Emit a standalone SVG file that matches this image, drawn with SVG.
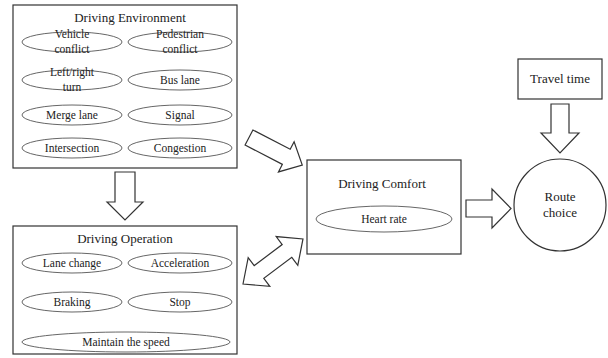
<svg xmlns="http://www.w3.org/2000/svg" width="608" height="358" viewBox="0 0 608 358" font-family="'Liberation Serif', 'DejaVu Serif', serif">
<style>
.box{fill:#fff;stroke:#333;stroke-width:1.2}
.ell{fill:#fff;stroke:#555;stroke-width:0.9}
.arr{fill:#fff;stroke:#333;stroke-width:1.2;stroke-linejoin:miter}
text{font-family:'Liberation Serif','DejaVu Serif',serif;fill:#222;text-anchor:middle}
.t{font-size:13px}
.l{font-size:11.5px}
</style>
<rect width="608" height="358" fill="#fff"/>
<g id="driving-environment">
<rect class="box" x="13" y="5" width="224" height="163"/>
<text class="t" x="130" y="22">Driving Environment</text>
<ellipse class="ell" cx="72" cy="42" rx="50" ry="10"/>
<text class="l" x="72" y="38">Vehicle</text>
<text class="l" x="72" y="53">conflict</text>
<ellipse class="ell" cx="180" cy="42" rx="52" ry="10"/>
<text class="l" x="180" y="38">Pedestrian</text>
<text class="l" x="180" y="53">conflict</text>
<ellipse class="ell" cx="72" cy="80" rx="50" ry="10"/>
<text class="l" x="72" y="76">Left/right</text>
<text class="l" x="72" y="91">turn</text>
<ellipse class="ell" cx="180" cy="80" rx="52" ry="10"/>
<text class="l" x="180" y="84">Bus lane</text>
<ellipse class="ell" cx="72" cy="115" rx="50" ry="10"/>
<text class="l" x="72" y="119">Merge lane</text>
<ellipse class="ell" cx="180" cy="115" rx="52" ry="10"/>
<text class="l" x="180" y="119">Signal</text>
<ellipse class="ell" cx="72" cy="148" rx="50" ry="10"/>
<text class="l" x="72" y="152">Intersection</text>
<ellipse class="ell" cx="180" cy="148" rx="52" ry="10"/>
<text class="l" x="180" y="152">Congestion</text>
</g>
<g id="driving-operation">
<rect class="box" x="13" y="226" width="224" height="128"/>
<text class="t" x="125" y="243">Driving Operation</text>
<ellipse class="ell" cx="72" cy="263" rx="50" ry="10"/>
<text class="l" x="72" y="267">Lane change</text>
<ellipse class="ell" cx="180" cy="263" rx="52" ry="10"/>
<text class="l" x="180" y="267">Acceleration</text>
<ellipse class="ell" cx="72" cy="302" rx="50" ry="10"/>
<text class="l" x="72" y="306">Braking</text>
<ellipse class="ell" cx="180" cy="302" rx="52" ry="10"/>
<text class="l" x="180" y="306">Stop</text>
<ellipse class="ell" cx="126" cy="342" rx="104" ry="10"/>
<text class="l" x="126" y="346">Maintain the speed</text>
</g>
<g id="driving-comfort">
<rect class="box" x="307" y="160" width="154" height="94"/>
<text class="t" x="382" y="188">Driving Comfort</text>
<ellipse class="ell" cx="384" cy="219" rx="68" ry="13"/>
<text class="l" x="384" y="223">Heart rate</text>
</g>
<g id="travel-time">
<rect class="box" x="518" y="59" width="84" height="40"/>
<text class="t" x="560" y="83">Travel time</text>
</g>
<g id="route-choice">
<circle class="box" cx="560" cy="205" r="46"/>
<text class="t" x="560" y="201">Route</text>
<text class="t" x="560" y="217">choice</text>
</g>
<g id="connectors">
<polygon class="arr" points="115,172 135,172 135,202 143,202 125,220 107,202 115,202"/>
<polygon class="arr" points="551,104 569,104 569,133 579,133 560,153 541,133 551,133"/>
<polygon class="arr" points="466,200 492,200 492,189 511,208.5 492,228 492,217 466,217"/>
<polygon class="arr" transform="translate(249,137.5) rotate(27.4)" points="0,-8.5 42,-8.5 42,-17 60,0 42,17 42,8.5 0,8.5"/>
<polygon class="arr" transform="translate(243,284) rotate(-36.9)" points="0,0 20,-18 20,-8 55,-8 55,-18 75,0 55,18 55,8 20,8 20,18"/>
</g>
</svg>
